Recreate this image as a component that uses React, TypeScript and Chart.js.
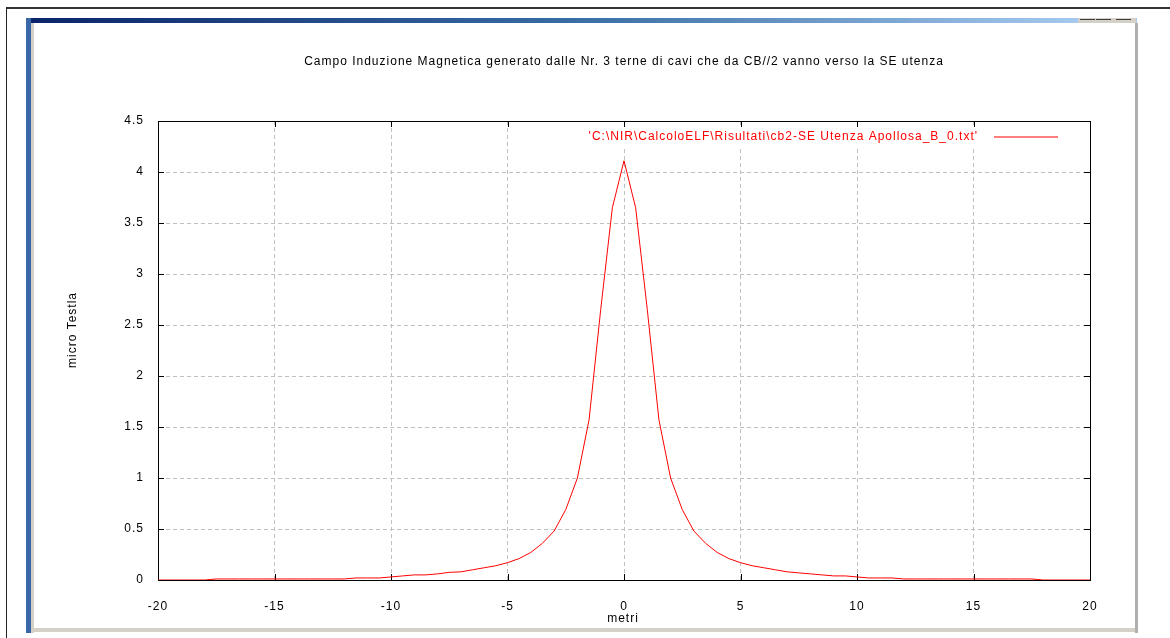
import React, { useEffect, useRef } from 'react';
import { Chart, registerables } from 'chart.js';

Chart.register(...registerables);

const CHART_TITLE =
  'Campo Induzione Magnetica generato dalle Nr. 3 terne di cavi che da CB//2 vanno verso la SE utenza';
const SERIES_LABEL = "'C:\\NIR\\CalcoloELF\\Risultati\\cb2-SE Utenza Apollosa_B_0.txt'";
const SERIES_COLOR = '#ff0000';
const X_TITLE = 'metri';
const Y_TITLE = 'micro Testla';

// distance from the cable axis (m)
const DISTANCE_M = [
  -20, -19.5, -19, -18.5, -18, -17.5, -17, -16.5, -16, -15.5, -15, -14.5, -14, -13.5, -13, -12.5,
  -12, -11.5, -11, -10.5, -10, -9.5, -9, -8.5, -8, -7.5, -7, -6.5, -6, -5.5, -5, -4.5, -4, -3.5,
  -3, -2.5, -2, -1.5, -1, -0.5, 0, 0.5, 1, 1.5, 2, 2.5, 3, 3.5, 4, 4.5, 5, 5.5, 6, 6.5, 7, 7.5, 8,
  8.5, 9, 9.5, 10, 10.5, 11, 11.5, 12, 12.5, 13, 13.5, 14, 14.5, 15, 15.5, 16, 16.5, 17, 17.5, 18,
  18.5, 19, 19.5, 20,
];

// magnetic induction (micro Tesla)
const B_MICROTESLA = [
  0, 0, 0, 0, 0, 0.01, 0.01, 0.01, 0.01, 0.01, 0.01, 0.01, 0.01, 0.01, 0.01, 0.01,
  0.01, 0.02, 0.02, 0.02, 0.03, 0.04, 0.05, 0.05, 0.06, 0.075, 0.08, 0.1, 0.12, 0.14, 0.17, 0.21, 0.27, 0.36,
  0.48, 0.69, 1.0, 1.57, 2.65, 3.65, 4.11, 3.65, 2.65, 1.57, 1.0, 0.69, 0.48, 0.36, 0.27, 0.21, 0.17, 0.14, 0.12, 0.1, 0.08, 0.07, 0.06,
  0.05, 0.04, 0.04, 0.03, 0.02, 0.02, 0.02, 0.01, 0.01, 0.01, 0.01, 0.01, 0.01, 0.01, 0.01, 0.01, 0.01, 0.01, 0.01, 0,
  0, 0, 0, 0,
];

const X_MIN = -20;
const X_MAX = 20;
const X_STEP = 5;
const Y_MIN = 0;
const Y_MAX = 4.5;
const Y_STEP = 0.5;

const FONT = '"Liberation Sans", Arial, Helvetica, sans-serif';

const gnuplotDecor = {
  id: 'gnuplotDecor',
  beforeDraw(chart: any) {
    // wider GDI-like letter spacing for every text drawn on the canvas
    (chart.ctx as any).letterSpacing = '1px';
  },
  beforeDatasetsDraw(chart: any) {
    const { ctx, chartArea } = chart;
    const { left, right, top, bottom } = chartArea;
    const xs = chart.scales.x;
    const ys = chart.scales.y;
    ctx.save();
    // key area is opaque
    ctx.fillStyle = '#ffffff';
    ctx.fillRect(575, top + 6, right - 575 - 24, 22);
    // border box
    ctx.setLineDash([]);
    ctx.strokeStyle = '#000000';
    ctx.lineWidth = 1;
    ctx.strokeRect(Math.round(left) + 0.5, Math.round(top) + 0.5, Math.round(right - left), Math.round(bottom - top));
    // inward ticks
    const tl = 6;
    ctx.beginPath();
    xs.ticks.forEach((t: any) => {
      const px = Math.round(xs.getPixelForValue(t.value)) + 0.5;
      ctx.moveTo(px, bottom);
      ctx.lineTo(px, bottom - tl);
      ctx.moveTo(px, top);
      ctx.lineTo(px, top + tl);
    });
    ys.ticks.forEach((t: any) => {
      const py = Math.round(ys.getPixelForValue(t.value)) + 0.5;
      ctx.moveTo(left, py);
      ctx.lineTo(left + tl, py);
      ctx.moveTo(right, py);
      ctx.lineTo(right - tl, py);
    });
    ctx.stroke();
    ctx.restore();
  },
  afterDraw(chart: any) {
    const { ctx, chartArea } = chart;
    const { left, right, top, bottom } = chartArea;
    const cx = (left + right) / 2;
    ctx.save();
    ctx.setLineDash([]);
    (ctx as any).letterSpacing = '1px';
    ctx.font = `12px ${FONT}`;
    ctx.fillStyle = '#000000';
    ctx.textBaseline = 'middle';
    ctx.textAlign = 'center';
    ctx.fillText(CHART_TITLE, cx, 62);
    ctx.fillText(X_TITLE, cx - 1, bottom + 39);
    ctx.save();
    ctx.translate(73, 330);
    ctx.rotate(-Math.PI / 2);
    ctx.fillText(Y_TITLE, 0, 0);
    ctx.restore();
    // key
    const ky = top + 16;
    ctx.fillStyle = SERIES_COLOR;
    ctx.textAlign = 'right';
    ctx.fillText(SERIES_LABEL, 978, ky);
    ctx.strokeStyle = SERIES_COLOR;
    ctx.lineWidth = 1.2;
    ctx.beginPath();
    ctx.moveTo(994, Math.round(ky));
    ctx.lineTo(1058, Math.round(ky));
    ctx.stroke();
    ctx.restore();
  },
};

export default function App() {
  const canvasRef = useRef<HTMLCanvasElement | null>(null);

  useEffect(() => {
    if (!canvasRef.current) return;
    const chart = new Chart(canvasRef.current, {
      type: 'line',
      data: {
        datasets: [
          {
            label: SERIES_LABEL,
            data: DISTANCE_M.map((x, i) => ({ x, y: B_MICROTESLA[i] })),
            borderColor: SERIES_COLOR,
            borderWidth: 1,
            pointRadius: 0,
            tension: 0,
            fill: false,
          },
        ],
      },
      options: {
        animation: false,
        responsive: false,
        devicePixelRatio: 1,
        layout: { padding: { left: 118, top: 121, right: 80, bottom: 28 } },
        plugins: {
          legend: { display: false },
          title: { display: false },
          tooltip: { enabled: false },
        },
        scales: {
          x: {
            type: 'linear',
            min: X_MIN,
            max: X_MAX,
            afterFit: (s: any) => {
              s.height = 30;
            },
            ticks: {
              stepSize: X_STEP,
              color: '#000000',
              padding: 19,
              maxRotation: 0,
              font: { family: FONT, size: 12 },
              callback: (v: any) => String(v),
            },
            grid: { color: '#c0c0c0', lineWidth: 1, drawTicks: false },
            border: { display: true, color: '#000000', width: 1, dash: [4, 3] },
          },
          y: {
            type: 'linear',
            min: Y_MIN,
            max: Y_MAX,
            afterFit: (s: any) => {
              s.width = 40;
            },
            ticks: {
              stepSize: Y_STEP,
              color: '#000000',
              padding: 14,
              font: { family: FONT, size: 12 },
              callback: (v: any) => String(v),
            },
            grid: { color: '#c0c0c0', lineWidth: 1, drawTicks: false },
            border: { display: true, color: '#000000', width: 1, dash: [4, 3] },
          },
        },
      },
      plugins: [gnuplotDecor],
    });
    return () => chart.destroy();
  }, []);

  const abs = (s: React.CSSProperties): React.CSSProperties => ({ position: 'absolute', ...s });

  return (
    <div style={abs({ left: 0, top: 0, width: 1170, height: 638, background: '#ffffff', overflow: 'hidden' })}>
      {/* outer dark frame */}
      <div style={abs({ left: 6, top: 7, width: 1164, height: 2, background: '#333333' })} />
      <div style={abs({ left: 6, top: 7, width: 1, height: 631, background: '#222222' })} />
      {/* window title bar (bottom part) */}
      <div
        style={abs({
          left: 26,
          top: 18,
          width: 1111,
          height: 5,
          background: 'linear-gradient(to right, #0a246a 0%, #3a6ea5 50%, #a6caf0 95%)',
        })}
      />
      <div style={abs({ left: 1078, top: 18, width: 58, height: 5, background: '#d4d0c8' })} />
      <div style={abs({ left: 1080, top: 19, width: 15, height: 1, background: '#404040' })} />
      <div style={abs({ left: 1096, top: 19, width: 15, height: 1, background: '#404040' })} />
      <div style={abs({ left: 1116, top: 19, width: 15, height: 1, background: '#404040' })} />
      {/* window left border */}
      <div style={abs({ left: 26, top: 18, width: 5, height: 615, background: '#3a67a8' })} />
      <div style={abs({ left: 31, top: 23, width: 3, height: 610, background: '#d4d0c8' })} />
      {/* window bottom border */}
      <div style={abs({ left: 31, top: 628, width: 1106, height: 4, background: '#d4d0c8' })} />
      {/* window right border */}
      <div style={abs({ left: 1135, top: 23, width: 3, height: 610, background: '#b0b0b0' })} />
      <canvas
        ref={canvasRef}
        width={1170}
        height={638}
        style={abs({ left: 0, top: 0, width: 1170, height: 638 })}
      />
    </div>
  );
}
